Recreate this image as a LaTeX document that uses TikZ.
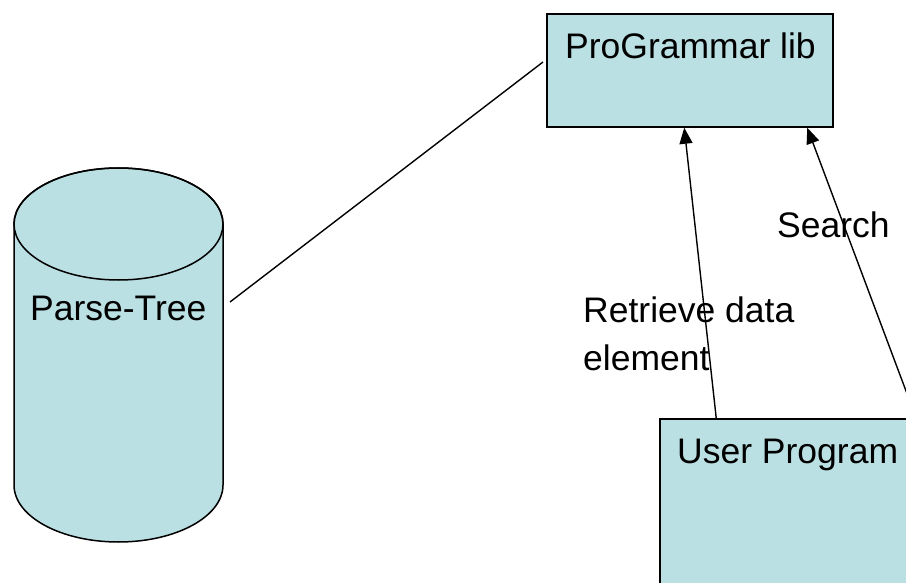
\documentclass[tikz,border=0pt]{standalone}
\usepackage{fontspec}
\setmainfont{Liberation Sans}
\usetikzlibrary{arrows.meta,calc}
\definecolor{boxfill}{RGB}{187,224,227}
\tikzset{
  shapebox/.style={draw=black,fill=boxfill,line width=1.5pt,rectangle,inner sep=0pt},
  txt/.style={anchor=base west,inner sep=0pt,font=\fontsize{35.5}{48}\selectfont},
  link/.style={draw=black,line width=1.4pt},
  arr/.style={link,-{Triangle[length=16pt,width=13pt]}}
}
\begin{document}
\begin{tikzpicture}[x=1pt,y=1pt]
\useasboundingbox (0,0) rectangle (906,-583);
\clip (0,0) rectangle (906,-583);

% Parse-tree store (cylinder)
\path[fill=boxfill,draw=black,line width=1.5pt]
  (14,-224) -- (14,-485)
  arc[start angle=180,end angle=360,x radius=104.5,y radius=57]
  -- (223,-224)
  arc[start angle=0,end angle=180,x radius=104.5,y radius=56] -- cycle;
\draw[line width=1.5pt] (118.5,-224) ellipse[x radius=104.5,y radius=56];
\node[txt] (treelbl) at (30,-320) {Parse-Tree};
\coordinate (treeport) at (230,-302);

% Library box
\node[shapebox,minimum width=286pt,minimum height=113pt] (lib) at (690,-70.5) {};
\node[txt] (liblbl) at (565,-59) {ProGrammar lib};
\coordinate (libport) at (543,-62);

% User program box (runs off the page)
\node[shapebox,minimum width=300pt,minimum height=240pt] (user) at (810,-539) {};
\node[txt] (userlbl) at (677,-463) {User Program};

% Connectors
\draw[link] (treeport) -- (libport);
\draw[arr] ($(user.north west)+(57,0)$) -- ($(lib.south west)+(138,0)$);
\draw[arr] ($(user.north west)+(257,0)$) -- ($(lib.south west)+(261,0)$);

% Connector labels
\node[txt] (retr1) at (583,-322) {Retrieve data};
\node[txt] (retr2) at (583,-370) {element};
\node[txt] (search) at (777,-237) {Search};
\end{tikzpicture}
\end{document}
